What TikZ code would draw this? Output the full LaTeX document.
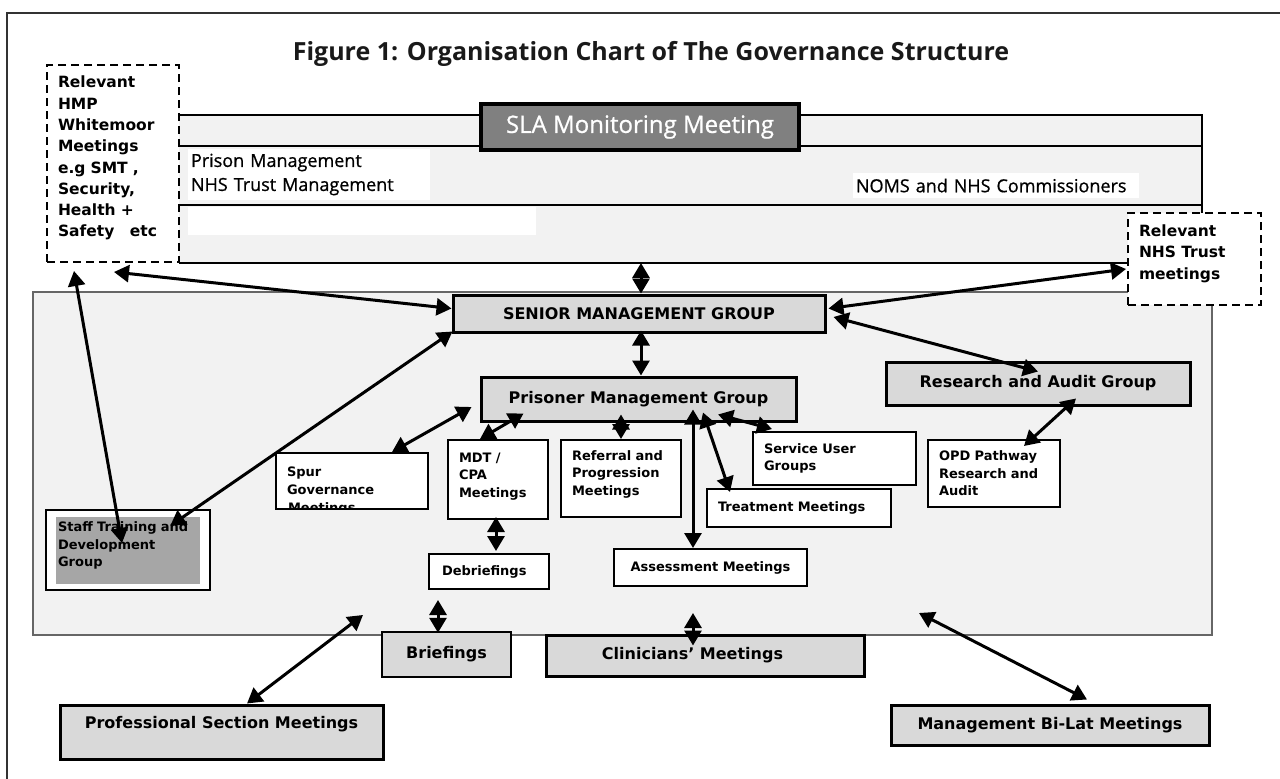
\documentclass[tikz,border=0pt]{standalone}
\usepackage{fontspec}
\setsansfont{DejaVu Sans}
\newfontfamily\opensans{Open Sans}
\newfontfamily\opensansmed{Open Sans}[FakeBold=0.8]
\usepackage{tikz}
\usetikzlibrary{arrows.meta, positioning}

\definecolor{panelgray}{HTML}{F2F2F2}
\definecolor{boxgray}{HTML}{D9D9D9}
\definecolor{slagray}{HTML}{808080}
\definecolor{staffgray}{HTML}{A6A6A6}

\tikzset{
    group/.style={draw, line width=3pt, fill=boxgray, inner sep=0pt, align=center,
        font=\sffamily\bfseries\fontsize{16}{19}\selectfont},
    meeting/.style={draw, line width=2pt, fill=white, inner xsep=11pt, inner ysep=0pt, align=left,
        font=\sffamily\bfseries\fontsize{13}{17.5}\selectfont},
    external/.style={draw, dash pattern=on 8pt off 5pt, line width=2pt, fill=white,
        inner xsep=11pt, inner ysep=0pt, align=left,
        font=\sffamily\bfseries\fontsize{15.5}{21.3}\selectfont},
    bandtext/.style={fill=white, inner xsep=3pt, inner ysep=0pt, align=left,
        font=\opensansmed\fontsize{18}{24}\selectfont},
    link/.style={<->, line width=3pt},
    >={Triangle[length=15pt, width=17pt]}
}

% extra depth under the last line of a box text
\newcommand{\lowpad}[1]{\rule[-#1]{0pt}{1pt}}

\begin{document}
\begin{tikzpicture}[x=1pt, y=-1pt]
    \useasboundingbox (0,0) rectangle (1280,779);
    % page frame
    \draw[line width=1.5pt, black!80] (7,779) -- (7,13) -- (1280,13);

    \node[font=\opensans\bfseries\fontsize{25}{30}\selectfont, text=black!90] (title) at (651,54)
        {Figure 1: Organisation Chart of The Governance Structure};

    % commissioning band
    \fill[panelgray] (179,115) rectangle (1202,263);
    \draw[line width=1.5pt] (179,115) -- (1202,115) -- (1202,263);
    \draw[line width=1.5pt] (179,146) -- (1202,146);
    \draw[line width=2pt] (179,205) -- (1202,205);
    \draw[line width=1.5pt] (179,263) -- (1202,263);
    \fill[white] (188,207) rectangle (536,235);

    % main panel
    \draw[line width=1.5pt, draw=black!60, fill=panelgray] (33,292) rectangle (1212,635);

    \node[draw, line width=3.5pt, fill=slagray, text=white, inner sep=0pt, minimum width=318pt, minimum height=46pt,
          font=\opensansmed\fontsize{24}{28}\selectfont] (sla) at (640,127) {SLA Monitoring Meeting};
    \node[bandtext, text width=236pt, minimum height=51pt] (mgmt) at (309,174.5) {Prison Management\\NHS Trust Management};
    \node[bandtext, text width=280pt, minimum height=25pt] (noms) at (996,185.5) {NOMS and NHS Commissioners};

    \node[external, text width=110pt, minimum height=197pt] (hmp) at (113,163.5)
        {Relevant\\HMP\\Whitemoor\\Meetings\\e.g SMT ,\\Security,\\Health +\\Safety~~ etc\lowpad{14pt}};
    \node[external, text width=111pt, minimum height=92pt] (trust) at (1194.5,259)
        {Relevant\\NHS Trust\\meetings\lowpad{14pt}};

    \node[group, minimum width=372pt, minimum height=37pt] (smg) at (639,313.5) {SENIOR MANAGEMENT GROUP};
    \node[group, minimum width=315pt, minimum height=44pt] (pmg) at (638.5,399) {Prisoner Management Group};
    \node[group, minimum width=304pt, minimum height=43pt] (rag) at (1038,383.5) {Research and Audit Group};
    \node[group, line width=2.5pt, minimum width=129pt, minimum height=45pt] (brief) at (446.5,654.5) {Briefings};
    \node[group, minimum width=318pt, minimum height=41pt] (clin) at (705,655.5) {Clinicians’ Meetings\hspace{25pt}};
    \node[group, minimum width=323pt, minimum height=54pt, text height=12pt, text depth=19pt] (prof) at (221.5,732)
        {Professional Section Meetings};
    \node[group, minimum width=318pt, minimum height=40pt] (bilat) at (1050,725) {Management Bi-Lat Meetings};

    \node[meeting, text width=130pt, minimum height=56pt,
          path picture={\node[draw=none, fill=none, inner sep=0pt, anchor=base west,
              font=\sffamily\bfseries\fontsize{13}{17.5}\selectfont]
              at ([shift={(11,59)}]path picture bounding box.north west) {Meetings};}] (spur) at (352,481)
        {Spur\\Governance};
    \node[meeting, text width=78pt, minimum height=79pt] (mdt) at (498,479.5) {MDT /\\CPA\\Meetings\lowpad{9pt}};
    \node[meeting, text width=98pt, minimum height=77pt] (refer) at (621,478.5)
        {Referral and\\Progression\\Meetings\lowpad{11pt}};
    \node[meeting, text width=141pt, minimum height=53pt] (users) at (834.5,458.5) {Service User\\Groups};
    \node[meeting, text width=162pt, minimum height=38pt] (treat) at (799,508) {Treatment Meetings};
    \node[meeting, text width=110pt, minimum height=67pt] (opd) at (994,473.5) {OPD Pathway\\Research and\\Audit};
    \node[meeting, text width=94pt, inner xsep=13pt, minimum height=35pt] (debrief) at (489,571.5) {Debriefings};
    \node[meeting, minimum width=193pt, minimum height=37pt, align=center] (assess) at (710.5,567.5) {Assessment Meetings};
    \node[meeting, line width=2.5pt, text width=140pt, inner xsep=12pt, minimum height=80pt,
          path picture={\fill[staffgray] ([shift={(10,7)}]path picture bounding box.north west)
              rectangle ([shift={(-10,-6)}]path picture bounding box.south east);}] (staff) at (128,550)
        {Staff~Training~and\\Development\\Group\lowpad{11pt}};

    \coordinate (bandfoot) at (641,263);
    \coordinate (briefup) at (438,600);
    \coordinate (clinup) at (693,613);
    \coordinate (profup) at (363,615);
    \coordinate (bilatup) at (919,613);

    \draw
    ([shift={(1,9)}]hmp.south) edge[link] ([shift={(0,-5)}]smg.west)
    ([shift={(28,8)}]hmp.south west) edge[link] ([shift={(-6,-7)}]staff.center)
    ([shift={(1,-2)}]smg.south west) edge[link] ([shift={(-41,17)}]staff.north east)
    (bandfoot) edge[link] ([shift={(2,0)}]smg.north)
    ([shift={(2,-5)}]smg.east) edge[link] ([shift={(-1,10)}]trust.west)
    ([shift={(7,3.5)}]smg.east) edge[link] ([shift={(0,11)}]rag.north)
    ([shift={(2,-3)}]smg.south) edge[link] ([shift={(2.5,0)}]pmg.north)
    ([shift={(38,-8)}]rag.south) edge[link] ([shift={(30,7)}]opd.north)
    ([shift={(-8,8)}]pmg.west) edge[link] ([shift={(40,0)}]spur.north)
    ([shift={(44,-9)}]pmg.south west) edge[link] ([shift={(-18,0)}]mdt.north)
    ([shift={(-17.5,-8)}]pmg.south) edge[link] (refer.north)
    ([shift={(54.5,-13)}]pmg.south) edge[link] ([shift={(-17.5,0)}]assess.north)
    ([shift={(64.5,-10)}]pmg.south) edge[link] ([shift={(24,4)}]treat.north west)
    ([shift={(79.5,-8)}]pmg.south) edge[link] ([shift={(20,-2)}]users.north west)
    ([shift={(-2,-3)}]mdt.south) edge[link] ([shift={(7,-2)}]debrief.north)
    (briefup) edge[link] ([shift={(-8.5,2)}]brief.north)
    (clinup) edge[link] ([shift={(-12,12)}]clin.north)
    (profup) edge[link] ([shift={(25.5,0)}]prof.north)
    (bilatup) edge[link] ([shift={(37,-4)}]bilat.north);
\end{tikzpicture}
\end{document}
